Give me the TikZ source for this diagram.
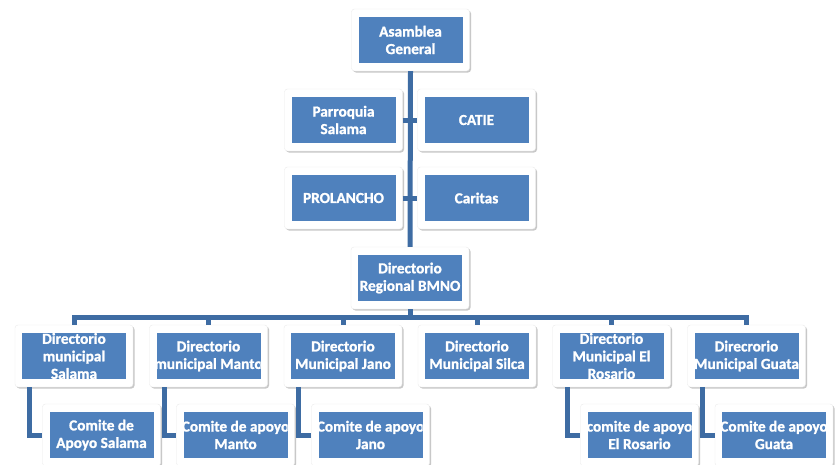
\documentclass[tikz,border=0pt]{standalone}
\usepackage{fontspec}
\setmainfont{Carlito}
\newfontfamily\boxfont{Carlito}[FakeBold=1.2]
\usetikzlibrary{shadows,calc}
\definecolor{boxblue}{HTML}{4F81BD}
\definecolor{linkblue}{HTML}{3E6CA3}
\tikzset{
 frame/.style={rectangle, draw=black!8, fill=white, rounded corners=3pt, minimum width=118pt, minimum height=62pt, inner sep=0pt,
   drop shadow={shadow xshift=1.5pt, shadow yshift=-1.5pt, opacity=0.3, fill=black!70}},
 inbox/.style={rectangle, fill=boxblue, minimum width=104pt, minimum height=46pt, inner sep=0pt},
 lbl/.style={text=white, align=center, font=\boxfont\bfseries\fontsize{15.3}{17.5}\selectfont, inner sep=0pt},
 link/.style={draw=linkblue, line width=5pt},
}
\newcommand\obox[4]{%
 \node[frame] (#1) at (#2,#3) {};
 \node[inbox, path picture={\node[lbl] at (path picture bounding box.center) {#4};}] (#1-b) at (#2,#3) {};
}
\begin{document}
\begin{tikzpicture}[x=1pt,y=-1pt]
\useasboundingbox[fill=white] (0,0) rectangle (838,464);
% top
\obox{asm}{410.5}{40}{Asamblea\\General}
\obox{par}{343.5}{120}{Parroquia\\Salama}
\obox{cat}{476.5}{120}{CATIE}
\obox{pro}{343.5}{198}{PROLANCHO}
\obox{car}{476.5}{198}{Caritas}
\obox{reg}{410}{278}{Directorio\\Regional BMNO}
% level 3
\obox{d1}{74}{356}{Directorio\\municipal\\Salama}
\obox{d2}{208.5}{356}{Directorio\\municipal Manto}
\obox{d3}{343}{356}{Directorio\\Municipal Jano}
\obox{d4}{477}{356}{Directorio\\Municipal Silca}
\obox{d5}{611.5}{356}{Directorio\\Municipal El\\Rosario}
\obox{d6}{746.5}{356}{Direcrorio\\Municipal Guata}
% level 4
\obox{c1}{101.5}{435}{Comite de\\Apoyo Salama}
\obox{c2}{235.5}{435}{Comite de apoyo\\Manto}
\obox{c3}{370.5}{435}{Comite de apoyo\\Jano}
\obox{c5}{639.5}{435}{comite de apoyo\\El Rosario}
\obox{c6}{774}{435}{Comite de apoyo\\Guata}
% connectors
\draw[link] (asm.south) -- (reg.north);
\draw[link] (par.east) -- (cat.west);
\draw[link] (pro.east) -- (car.west);
\coordinate (busy) at (0,317);
\draw[link] (reg.south) -- (reg.south |- busy);
\draw[link, line join=miter] (d1.north) -- (d1.north |- busy) -- (d6.north |- busy) -- (d6.north);
\foreach \d in {d2,d3,d4,d5} \draw[link] (\d.north) -- (\d.north |- busy);
\foreach \p/\c in {d1/c1,d2/c2,d3/c3,d5/c5,d6/c6}
  \draw[link, line join=miter] ($(\p.south west)+(15,0)$) |- (\c.west);
\end{tikzpicture}
\end{document}
